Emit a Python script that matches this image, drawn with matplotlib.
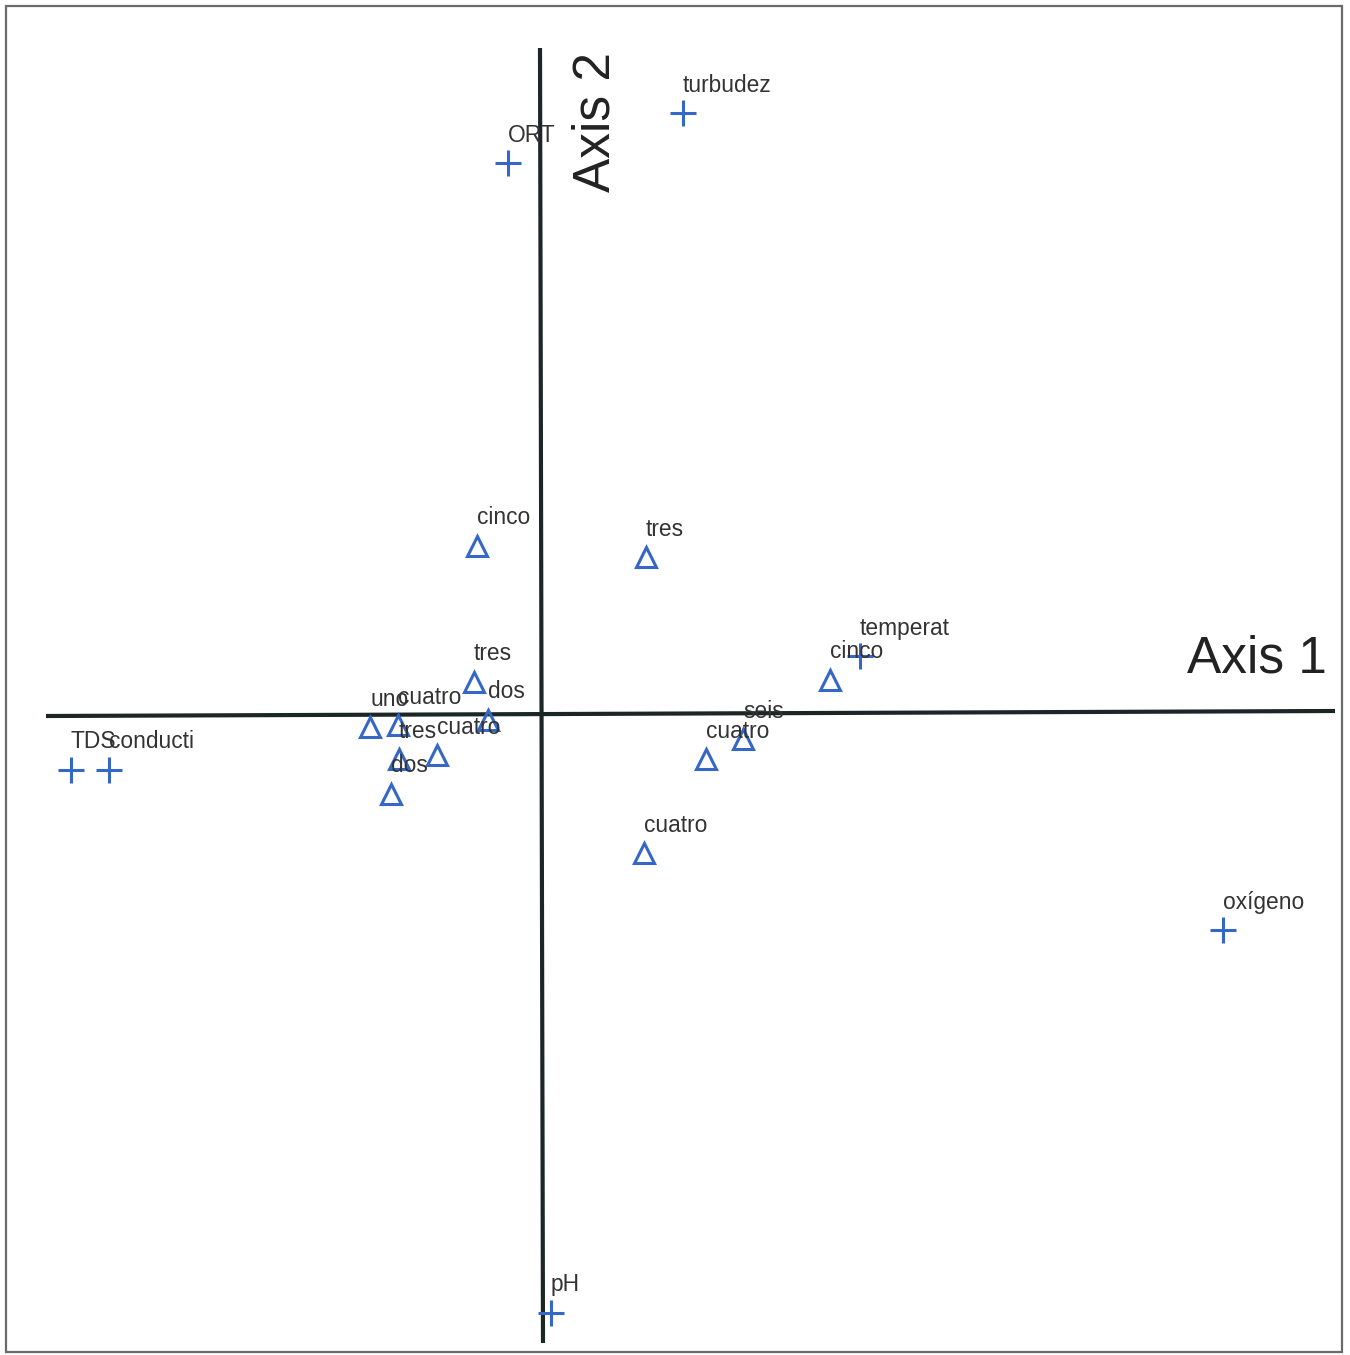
import matplotlib
matplotlib.use("Agg")
import matplotlib.pyplot as plt

plt.rcParams['font.family'] = ['Liberation Sans', 'DejaVu Sans']

# Environmental variables (biplot arrows tips shown as crosses)
var_names = ["turbudez", "ORT", "temperat", "TDS", "conducti", "oxígeno", "pH"]
var_ax1 = [1.43, -0.32, 3.20, -4.69, -4.31, 6.83, 0.11]
var_ax2 = [6.01, 5.51, 0.58, -0.56, -0.56, -2.16, -5.99]

# Sample scores (triangles)
site_names = ["cinco", "tres", "cinco", "tres", "dos", "cuatro", "uno",
              "cuatro", "tres", "dos", "seis", "cuatro", "cuatro"]
site_ax1 = [-0.63, 1.06, 2.90, -0.66, -0.52, -1.03, -1.70,
            -1.42, -1.41, -1.49, 2.03, 1.66, 1.04]
site_ax2 = [1.68, 1.57, 0.34, 0.32, -0.06, -0.41, -0.13,
            -0.11, -0.45, -0.80, -0.25, -0.45, -1.39]

blue = "#3567c6"
text_col = "#333333"
axis_col = "#1c2626"

fig = plt.figure(figsize=(13.5, 13.55), dpi=100)
ax = fig.add_axes([0, 0, 1, 1])
ax.set_xlim(-5.40, 8.10)
ax.set_ylim(-6.41, 7.14)
ax.axis("off")

# Outer frame
fig.patches.append(plt.Rectangle((6 / 1350, 3 / 1355), 1336 / 1350, 1346 / 1355,
                                 transform=fig.transFigure, fill=False,
                                 edgecolor="#6a6a6a", linewidth=1.6))

# Ordination axes
ax.plot([-4.94, 7.95], [-0.02, 0.03], color=axis_col, lw=3.0, solid_capstyle="butt")
ax.plot([0.0, 0.03], [6.66, -6.29], color=axis_col, lw=3.0, solid_capstyle="butt")
ax.text(6.47, 0.55, "Axis 1", fontsize=37, color="#222222", ha="left", va="center")
ax.text(0.56, 5.92, "Axis 2", fontsize=37, color="#222222", rotation=90,
        ha="center", va="center")

ax.plot(var_ax1, var_ax2, linestyle="none", marker="+", markersize=19,
        markeredgewidth=2.2, color=blue)
ax.plot(site_ax1, site_ax2, linestyle="none", marker="^", markersize=15,
        markeredgewidth=2.2, markerfacecolor="none", markeredgecolor=blue)

for name, x, y in zip(var_names, var_ax1, var_ax2):
    ax.annotate(name, (x, y), xytext=(0, 28), textcoords="offset pixels",
                ha="left", va="center", fontsize=16.4, color=text_col)
for name, x, y in zip(site_names, site_ax1, site_ax2):
    ax.annotate(name, (x, y), xytext=(0, 28), textcoords="offset pixels",
                ha="left", va="center", fontsize=16.4, color=text_col)

fig.savefig("out.png", dpi=100)
